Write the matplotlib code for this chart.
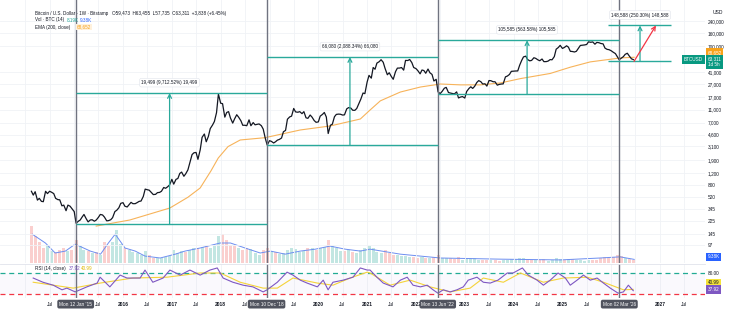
import numpy as np
import pandas as pd
import matplotlib.pyplot as plt
from matplotlib.ticker import NullLocator

close_2014 = [640, 560, 630, 470, 500, 450, 445, 640, 590, 640, 620, 590, 500, 478, 475, 385, 395, 325, 395, 380, 350]
close_2015 = [315, 210, 225, 235, 260, 285, 245, 220, 235, 237, 225, 235, 258, 285, 280, 260, 228, 230, 237, 255, 315, 330, 360, 420]
close_2016 = [430, 380, 370, 400, 435, 415, 415, 430, 450, 455, 535, 690, 675, 665, 610, 570, 575, 610, 615, 640, 730, 710, 750, 800]
close_2017 = [970, 820, 970, 1000, 1190, 1250, 1080, 1180, 1350, 1720, 2300, 2450, 2480, 1950, 2720, 4200, 4720, 3600, 4340, 5700, 6450, 7300, 9950, 19000]
close_2018 = [13800, 13600, 8500, 10000, 10300, 8250, 6900, 8000, 9240, 8500, 7500, 6400, 6400, 6300, 7730, 6300, 7030, 6500, 6620, 6700, 6310, 5600, 4020, 3200]
close_2019 = [3740, 3650, 3450, 3600, 3810, 3900, 4100, 5100, 5350, 7900, 8570, 8800, 11500, 10200, 10080, 10300, 9600, 10300, 8300, 8150, 9150, 8500, 7550, 7100]
close_2020 = [7190, 8800, 9350, 10000, 8540, 4800, 6410, 6640, 8620, 9350, 9450, 9400, 9140, 9200, 11350, 11850, 11650, 10800, 10780, 11500, 13800, 16000, 19700, 19300]
close_2021 = [29000, 36500, 33100, 48000, 45200, 56000, 58800, 63000, 57700, 46500, 37300, 40000, 35000, 31800, 41500, 47000, 47100, 48000, 43800, 61500, 61300, 63500, 57000, 48000]
close_2022 = [46200, 43000, 38500, 44000, 43200, 39300, 45500, 40000, 37700, 30000, 31800, 20500, 19300, 20800, 23300, 24000, 20050, 19700, 19400, 19100, 20500, 16600, 17160, 17400]
close_2023 = [16540, 20800, 23100, 24500, 23150, 24800, 28500, 30400, 29250, 27000, 27200, 25100, 30450, 30300, 29200, 29200, 25950, 26600, 26970, 27100, 34650, 35600, 37700, 42000]
close_2024 = [42300, 42500, 42600, 51800, 61200, 69500, 71300, 63400, 60600, 61500, 67500, 66000, 62700, 60800, 64600, 58900, 58970, 60000, 63300, 62800, 70200, 91000, 96400, 104000]
close_2025 = [93400, 96500, 102400, 97500, 84400, 84000, 82500, 84500, 94200, 103700, 104600, 105500, 107100, 117700, 115700, 117400, 108200, 115300, 114000, 111000, 109500, 94500, 90400, 89500]
close_2026 = [86000, 82000, 78000, 70000, 63000, 66000, 70000, 76000, 79000, 72000, 65000, 63311]

# EMA(200) (decimal year, price)
ema_year = [2015.45, 2016.14, 2016.96, 2017.33, 2017.58, 2017.80, 2017.95, 2018.15, 2018.40, 2018.91,
            2019.63, 2020.24, 2020.86, 2021.06, 2021.27, 2021.68, 2022.09, 2022.50, 2022.91, 2023.32,
            2023.73, 2024.14, 2024.75, 2025.16, 2025.57, 2025.98, 2026.18, 2026.47]
ema_val = [190, 235, 357, 520, 718, 1300, 2040, 3040, 3830, 4150,
           5430, 6240, 7960, 10900, 15000, 20400, 24300, 27000, 26200, 26200,
           28000, 32600, 39000, 48500, 58400, 64000, 67000, 68652]

# volume, thousand BTC per week, one bar per month from Feb 2014
vol_2014_2017 = [95, 70, 55, 40, 48, 30, 28, 35, 38, 30, 34,
                 60, 45, 35, 32, 25, 28, 22, 55, 45, 55, 85, 50,
                 40, 35, 28, 26, 20, 30, 22, 14, 12, 13, 15, 18,
                 35, 25, 30, 28, 35, 38, 40, 42, 45, 40, 45, 70]
vol_2018_2021 = [75, 60, 48, 45, 40, 35, 38, 36, 25, 20, 35, 38,
                 30, 28, 24, 25, 35, 40, 36, 28, 30, 40, 38, 35,
                 38, 42, 60, 45, 40, 30, 32, 35, 28, 25, 35, 40,
                 45, 38, 28, 25, 35, 25, 22, 20, 18, 18, 16, 16]
vol_2022_2026 = [14, 15, 13, 12, 16, 20, 14, 12, 12, 10, 16, 9,
                 12, 12, 14, 9, 8, 9, 7, 7, 6, 9, 9, 10,
                 11, 12, 14, 9, 7, 7, 8, 10, 6, 7, 12, 11,
                 9, 10, 11, 9, 8, 6, 8, 7, 7, 12, 15, 14,
                 16, 20, 18, 12, 10, 9]
volma_year = [2014.14, 2014.41, 2014.61, 2014.82, 2015.02, 2015.33, 2015.54, 2015.70, 2015.84, 2016.04,
              2016.25, 2016.45, 2016.76, 2017.07, 2017.27, 2017.58, 2017.99, 2018.20, 2018.50, 2018.81,
              2019.02, 2019.32, 2019.63, 2019.94, 2020.24, 2020.55, 2020.86, 2021.06, 2021.68, 2022.50,
              2023.73, 2024.96, 2025.77, 2026.18, 2026.47]
volma_val = [75, 52, 26, 31, 49, 31, 23, 52, 75, 39, 31, 18, 13, 23, 31, 39, 52, 52, 39, 26,
             31, 23, 31, 36, 44, 36, 31, 36, 23, 13, 10, 8, 13, 16, 9.38]

# RSI(14) and its moving average
rsi_year = [2014.16, 2014.36, 2014.57, 2014.75, 2014.85, 2015.02, 2015.26, 2015.47, 2015.53, 2015.73,
            2015.94, 2016.08, 2016.35, 2016.45, 2016.61, 2016.82, 2016.96, 2017.17, 2017.37, 2017.58,
            2017.78, 2017.93, 2018.05, 2018.25, 2018.46, 2018.66, 2018.87, 2018.95, 2019.16, 2019.36,
            2019.48, 2019.63, 2019.77, 2019.98, 2020.10, 2020.20, 2020.30, 2020.51, 2020.71, 2020.86,
            2021.00, 2021.06, 2021.20, 2021.33, 2021.53, 2021.68, 2021.82, 2021.94, 2022.09, 2022.23,
            2022.35, 2022.45, 2022.56, 2022.70, 2022.84, 2022.97, 2023.07, 2023.25, 2023.38, 2023.52,
            2023.68, 2023.87, 2023.99, 2024.18, 2024.30, 2024.48, 2024.61, 2024.75, 2024.91, 2025.06,
            2025.16, 2025.30, 2025.43, 2025.57, 2025.71, 2025.84, 2025.98, 2026.14, 2026.25, 2026.35,
            2026.45]
rsi_val = [68, 58, 51, 40, 44, 35, 47, 56, 70, 47,
           75, 68, 68, 87, 58, 68, 87, 75, 87, 75,
           87, 92, 68, 58, 51, 47, 35, 40, 58, 82,
           75, 63, 56, 47, 63, 40, 58, 63, 70, 92,
           87, 87, 70, 56, 47, 63, 70, 51, 47, 51,
           40, 32, 40, 35, 40, 47, 63, 70, 58, 56,
           63, 80, 80, 92, 75, 63, 51, 63, 80, 68,
           51, 63, 75, 63, 68, 56, 44, 32, 35, 51,
           37.92]
rsi_ma_year = [2014.16, 2014.98, 2015.53, 2016.20, 2016.90, 2017.58, 2017.99, 2018.40, 2018.87, 2019.16,
               2019.48, 2019.98, 2020.30, 2020.65, 2021.00, 2021.06, 2021.47, 2021.88, 2022.29, 2022.70,
               2023.11, 2023.38, 2023.79, 2024.14, 2024.61, 2025.02, 2025.51, 2025.84, 2026.25, 2026.45]
rsi_ma_val = [58, 44, 56, 68, 70, 80, 80, 58, 44, 44,
              68, 56, 51, 68, 82, 80, 51, 63, 47, 35,
              44, 68, 58, 80, 58, 68, 70, 58, 40, 40.99]

# date-price range measurements (change, percent) and cycle markers
box_change = [19499, 66080, 105585, 148588]
box_pct = [9712.52, 2088.34, 563.58, 250.30]
box_start = ['2015-01-12', '2018-12-10', '2022-06-13', '2025-12-10']
box_end = ['2018-12-10', '2022-06-13', '2026-03-02', '2027-03-25']
box_arrow = ['2016-12-15', '2020-08-25', '2024-04-11', '2026-08-04']
cycle_dates = ['2015-01-12', '2018-12-10', '2022-06-13', '2026-03-02']
last_ohlc = [59473, 63455, 57735, 63311]
last_change, last_pct = 3838, 6.45

# time-axis labels hidden under the cycle date badges
hidden_ticks = ['2014', '2015', '2019', 'Jul 2022', '2026', 'Jul 2026']


def dec(d):
    ts = pd.Timestamp(d)
    return ts.year + (ts.dayofyear - 1) / (366 if ts.is_leap_year else 365)


plt.rcParams['font.family'] = ['Liberation Sans', 'DejaVu Sans']
W, H = 737, 314


def rect(x0, y0, x1, y1):
    return [x0 / W, 1 - y1 / H, (x1 - x0) / W, (y1 - y0) / H]


teal = '#2aa99b'
ink = '#131722'
grid_c = '#f0f2f6'

# price series
closes = [close_2014, close_2015, close_2016, close_2017, close_2018, close_2019, close_2020,
          close_2021, close_2022, close_2023, close_2024, close_2025, close_2026]
px_dates, px_vals = [], []
for year, vals in zip(range(2014, 2027), closes):
    start = '2014-02-15' if year == 2014 else f'{year}-01-01'
    px_dates += list(pd.date_range(start, periods=len(vals), freq='SMS'))
    px_vals += vals
px_t = [dec(d) for d in px_dates]

vol = vol_2014_2017 + vol_2018_2021 + vol_2022_2026
vol_dates = pd.date_range('2014-02-01', periods=len(vol), freq='MS')
vol_t = [dec(d + pd.Timedelta(days=14)) for d in vol_dates]
monthly = pd.Series(px_vals, index=px_dates).resample('MS').last()
up = (monthly.diff().fillna(-1) >= 0).values[:len(vol)]
vol_col = ['#26a69a' if u else '#ef5350' for u in up]

fig = plt.figure(figsize=(W / 100, H / 100), dpi=100)
xlim = (2013.48, 2027.92)

axv = fig.add_axes(rect(0, 0, 705, 263))
axv.bar(vol_t, vol, width=0.062, color=vol_col, alpha=0.28, linewidth=0)
axv.plot(volma_year, volma_val, color='#6d8ef0', lw=0.7)
axv.set_ylim(0, 684)
axv.set_xlim(*xlim)
axv.axis('off')

ax = fig.add_axes(rect(0, 0, 705, 263))
ax.patch.set_visible(False)
ax.set_yscale('log')
ax.set_ylim(52.4, 506000)
ax.set_xlim(*xlim)

axr = fig.add_axes(rect(0, 264, 705, 298), sharex=ax)

# ticks and grid
xt, xl = [], []
for y in range(2014, 2028):
    for pos, name, key in ((y, str(y), str(y)), (y + 0.496, 'Jul', f'Jul {y}')):
        xt.append(pos)
        xl.append('' if key in hidden_ticks else name)
axr.set_xticks(xt)
axr.set_xticklabels(xl)
for lab in axr.get_xticklabels():
    if lab.get_text() not in ('Jul', ''):
        lab.set_fontweight('bold')
axr.tick_params(axis='x', length=0, pad=3, labelsize=3.5, colors=ink)
ax.tick_params(axis='x', length=0, labelbottom=False)

price_ticks = [97, 145, 225, 345, 520, 800, 1200, 1900, 3100, 4600, 7000, 11000, 17000, 27000, 41000, 100000, 160000, 240000]
ax.yaxis.tick_right()
ax.set_yticks(price_ticks)
ax.set_yticklabels([f'{v:,}' for v in price_ticks])
ax.yaxis.set_minor_locator(NullLocator())
ax.tick_params(axis='y', length=0, pad=2.2, labelsize=3.4, colors=ink)

axr.set_ylim(20.5, 101.4)
axr.yaxis.tick_right()
axr.set_yticks([80])
axr.set_yticklabels(['80.00'])
axr.tick_params(axis='y', length=0, pad=2.2, labelsize=3.4, colors=ink)

for a in (ax, axr):
    a.grid(True, color=grid_c, lw=0.6)
    a.set_axisbelow(True)
    for s in a.spines.values():
        s.set_visible(False)
axr.grid(axis='y', visible=False)

# price, EMA
ax.plot(px_t, px_vals, color=ink, lw=0.9, zorder=3)
ax.plot(ema_year, ema_val, color='#f7b35a', lw=0.8, zorder=2)

# cycle markers
for d in cycle_dates:
    for a in (ax, axr):
        a.axvline(dec(d), color='#707380', lw=1.0, zorder=4)
    ts = pd.Timestamp(d)
    axr.annotate(ts.strftime("%a %d %b '%y"), xy=(dec(d), -0.18), xycoords=('data', 'axes fraction'),
                 ha='center', va='center', fontsize=3.4, color='white', annotation_clip=False, zorder=6,
                 bbox=dict(boxstyle='round,pad=0.4', fc='#50535e', ec='none'))

# measurement boxes
lows, highs = [], []
for chg, pct, s, e, a in zip(box_change, box_pct, box_start, box_end, box_arrow):
    low = chg / (pct / 100)
    high = low + chg
    lows.append(low)
    highs.append(high)
    ax.hlines([low, high], dec(s), dec(e), color=teal, lw=1.0, zorder=5)
    ax.annotate('', xy=(dec(a), high), xytext=(dec(a), low),
                arrowprops=dict(arrowstyle='->', color=teal, lw=0.9, shrinkA=0, shrinkB=0, mutation_scale=7),
                zorder=5)
    ax.annotate(f'{chg:,} ({pct:,.2f}%) {chg:,}', xy=(dec(a), high), xytext=(0, 7.5),
                textcoords='offset points', ha='center', va='center', fontsize=3.3, color=ink, zorder=7,
                bbox=dict(boxstyle='round,pad=0.4', fc='white', ec='#e0e3eb', lw=0.4))

# projected move
ax.annotate('', xy=(dec('2026-12-01'), highs[-1]), xytext=(dec('2026-06-20'), lows[-1]),
            arrowprops=dict(arrowstyle='->', color='#f23645', lw=0.9, shrinkA=0, shrinkB=0, mutation_scale=7),
            zorder=6)

# RSI pane
axr.axhspan(30, 80, color='#7e57c2', alpha=0.03, lw=0)
axr.axhline(80, color='#22ab94', lw=0.9, ls=(0, (4, 3)))
axr.axhline(30, color='#f23645', lw=0.9, ls=(0, (4, 3)))
axr.plot(rsi_ma_year, rsi_ma_val, color='#f5d33a', lw=0.8)
axr.plot(rsi_year, rsi_val, color='#7e57c2', lw=0.8)

# pane separator
fig.add_artist(plt.Line2D([0, 705 / W], [1 - 263.5 / H] * 2, color='#e0e3eb', lw=0.6))


def ptext(x, y, s, **kw):
    kw.setdefault('fontsize', 3.3)
    kw.setdefault('color', ink)
    kw.setdefault('va', 'center')
    return fig.text(x / W, 1 - y / H, s, **kw)


# header legend
o, h, l, c = last_ohlc
ptext(35, 13, f'Bitcoin / U.S. Dollar · 1W · Bitstamp   O{o:,}  H{h:,}  L{l:,}  C{c:,}  +{last_change:,} (+{last_pct:.2f}%)')
ptext(35, 20, 'Vol · BTC (14)')
ptext(67, 20, '8.19K', color='#26a69a')
ptext(80, 20, f'{volma_val[-1]:.2f}K', color='#2962ff')
ptext(35, 27, 'EMA (200, close)')
ptext(77, 27, f'{ema_val[-1]:,}', color='#f7a21b',
      bbox=dict(boxstyle='square,pad=0.15', fc='#fff1dc', ec='none'))
ptext(35, 268.5, 'RSI (14, close)')
ptext(68.5, 268.5, f'{rsi_val[-1]:.2f}', color='#7e57c2')
ptext(80.5, 268.5, f'{rsi_ma_val[-1]:.2f}', color='#e0b800')

# right scale tags
ptext(713, 13, 'USD', fontsize=3.6)
ptext(707.5, 52.5, f'{ema_val[-1]:,}', color='white',
      bbox=dict(boxstyle='square,pad=0.35', fc='#f7a21b', ec='none'))
ptext(707.5, 62, f'{px_vals[-1]:,}\n1d 5h', color='white', linespacing=1.2,
      bbox=dict(boxstyle='square,pad=0.35', fc='#089981', ec='none'))
ptext(703, 59.5, 'BTCUSD', color='white', ha='right',
      bbox=dict(boxstyle='square,pad=0.35', fc='#089981', ec='none'))
ptext(707.5, 257, f'{volma_val[-1]:.2f}K', color='white',
      bbox=dict(boxstyle='square,pad=0.35', fc='#2962ff', ec='none'))
ptext(707.5, 283, f'{rsi_ma_val[-1]:.2f}', color=ink,
      bbox=dict(boxstyle='square,pad=0.35', fc='#f5e33a', ec='none'))
ptext(707.5, 289.5, f'{rsi_val[-1]:.2f}', color='white',
      bbox=dict(boxstyle='square,pad=0.35', fc='#7e57c2', ec='none'))

fig.savefig('out.png', dpi=100)
